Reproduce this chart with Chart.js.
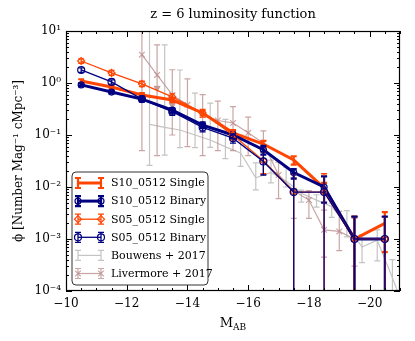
<!DOCTYPE html>
<html>
<head>
<meta charset="utf-8">
<script src="https://cdn.jsdelivr.net/npm/chart.js@4.4.0/dist/chart.umd.min.js"></script>
<style>
  html, body { margin: 0; padding: 0; background: #fff; }
  .chart-wrap { width: 415px; height: 341px; }
</style>
</head>
<body>
<div class="chart-wrap"><canvas id="lf"></canvas></div>
<script>
// simulation bins (M_AB)
const mags = [-10.5, -11.5, -12.5, -13.5, -14.5, -15.5, -16.5, -17.5, -18.5, -19.5, -20.5];

const s10Single   = [1.09, 0.84, 0.59, 0.47, 0.265, 0.11, 0.067, 0.033, 0.0096, 0.001, 0.002];
const s10SingleLo = [1.0, 0.78, 0.55, 0.43, 0.24, 0.098, 0.058, 0.027, 0.0075, 1e-6, 0.00056];
const s10SingleHi = [1.18, 0.9, 0.64, 0.51, 0.29, 0.124, 0.077, 0.039, 0.012, 0.0027, 0.0033];

const s10Binary   = [0.92, 0.67, 0.49, 0.30, 0.155, 0.10, 0.052, 0.019, 0.010, 0.001, 0.001];
const s10BinaryLo = [0.87, 0.63, 0.45, 0.27, 0.135, 0.085, 0.042, 0.0145, 0.005, 1e-6, 1e-6];
const s10BinaryHi = [0.97, 0.71, 0.53, 0.33, 0.175, 0.115, 0.062, 0.022, 0.016, 0.0027, 0.0027];

const s05Single   = [2.65, 1.56, 0.96, 0.54, 0.265, 0.10, 0.032, 0.008, 0.008, 0.001, 0.001];
const s05SingleLo = [2.4, 1.4, 0.85, 0.47, 0.22, 0.08, 0.018, 1e-6, 1e-6, 1e-6, 1e-6];
const s05SingleHi = [2.9, 1.75, 1.08, 0.62, 0.31, 0.12, 0.048, 0.018, 0.018, 0.0027, 0.0027];

const s05Binary   = [1.78, 1.05, 0.49, 0.28, 0.14, 0.087, 0.031, 0.008, 0.008, 0.001, 0.001];
const s05BinaryLo = [1.6, 0.95, 0.43, 0.24, 0.115, 0.07, 0.017, 1e-6, 1e-6, 1e-6, 1e-6];
const s05BinaryHi = [1.95, 1.15, 0.56, 0.32, 0.165, 0.105, 0.048, 0.018, 0.016, 0.0027, 0.0027];

// Bouwens+2017
const bouwensMags = [-12.75, -13.25, -13.75, -14.25, -14.75, -15.25, -15.75, -16.25, -16.75,
                     -17.25, -17.75, -18.25, -18.75, -19.25, -19.75, -20.25, -20.75, -21.25];
const bouwens   = [0.16, 0.14, 0.125, 0.10, 0.08, 0.059, 0.045, 0.015, 0.019,
                   0.013, 0.0076, 0.0056, 0.0042, 0.0018, 0.0007, 0.00095, 0.00018, 0.00003];
const bouwensLo = [0.026, 0.041, 0.057, 0.057, 0.058, 0.035, 0.025, 0.0088, 0.012,
                   0.010, 0.0051, 0.0041, 0.0026, 0.0011, 0.00035, 0.00038, 0.00001, 0.00001];
const bouwensHi = [30, 5.4, 1.78, 0.64, 0.41, 0.2, 0.1, 0.029, 0.033,
                   0.024, 0.0087, 0.0071, 0.0049, 0.0035, 0.0012, 0.0015, 0.0004, 0.0001];

// Livermore+2017
const livermoreMags = [-12.5, -13.0, -13.5, -14.0, -14.5, -15.0, -15.5, -16.0, -16.5,
                       -17.0, -17.5, -18.0, -18.5, -19.0, -19.5];
const livermore   = [3.5, 1.43, 0.59, 0.38, 0.24, 0.19, 0.17, 0.11, 0.07,
                     0.017, 0.0085, 0.0056, 0.0015, 0.0014, 0.001];
const livermoreLo = [0.05, 0.04, 0.1, 0.06, 0.04, 0.05, 0.05, 0.04, 0.03,
                     0.006, 0.0025, 0.0025, 0.00045, 0.0006, 0.0003];
const livermoreHi = [30, 5.4, 1.8, 1.2, 0.6, 0.45, 0.35, 0.22, 0.12,
                     0.03, 0.015, 0.0085, 0.0036, 0.0034, 0.0025];
const livermoreLimitMags = [-13.0, -13.5];
const livermoreLimits = [0.8, 0.375];

const xTicks = [-20, -18, -16, -14, -12, -10];
const yTicks = [1e-4, 1e-3, 1e-2, 1e-1, 1, 10];

const SERIF = '"DejaVu Serif", serif';
const SUP = { '-': '\u207b', '0': '\u2070', '1': '\u00b9', '2': '\u00b2', '3': '\u00b3', '4': '\u2074' };
const sup = s => String(s).split('').map(c => SUP[c]).join('');
const pts = (xs, ys) => xs.map((x, i) => ({ x, y: ys[i] }));

// vertical error bars, drawn right after their own dataset
const errorBars = {
  id: 'errorBars',
  afterDatasetDraw(chart, args) {
    const ds = chart.data.datasets[args.index];
    if (!ds.errLo) return;
    const { ctx, chartArea: a, scales: { x, y } } = chart;
    ctx.save();
    ctx.beginPath();
    ctx.rect(a.left, a.top, a.right - a.left, a.bottom - a.top);
    ctx.clip();
    ctx.strokeStyle = ds.borderColor;
    ctx.lineWidth = ds.errWidth;
    const cap = 3;
    ds.data.forEach((p, i) => {
      const px = x.getPixelForValue(p.x);
      const top = y.getPixelForValue(ds.errHi[i]);
      const bot = y.getPixelForValue(ds.errLo[i]);
      ctx.beginPath();
      ctx.moveTo(px, top); ctx.lineTo(px, bot);
      ctx.moveTo(px - cap, top); ctx.lineTo(px + cap, top);
      ctx.moveTo(px - cap, bot); ctx.lineTo(px + cap, bot);
      ctx.stroke();
    });
    ctx.restore();
  }
};

// frame with inward ticks on all sides, plus title and x label
const frameTicks = {
  id: 'frameTicks',
  afterDatasetsDraw(chart) {
    const { ctx, chartArea: a, scales: { x, y } } = chart;
    ctx.save();
    ctx.strokeStyle = '#000';
    ctx.lineWidth = 1;
    ctx.beginPath();
    for (let v = -21; v <= -10; v += 0.5) {
      const px = Math.round(x.getPixelForValue(v)) + 0.5;
      const len = v % 2 === 0 ? 6 : 3;
      ctx.moveTo(px, a.bottom); ctx.lineTo(px, a.bottom - len);
      ctx.moveTo(px, a.top); ctx.lineTo(px, a.top + len);
    }
    for (let e = -4; e <= 1; e++) {
      for (let m = 1; m <= (e === 1 ? 1 : 9); m++) {
        const py = Math.round(y.getPixelForValue(m * Math.pow(10, e))) + 0.5;
        const len = m === 1 ? 6 : 3;
        ctx.moveTo(a.left, py); ctx.lineTo(a.left + len, py);
        ctx.moveTo(a.right, py); ctx.lineTo(a.right - len, py);
      }
    }
    ctx.stroke();
    ctx.lineWidth = 1.2;
    ctx.strokeRect(a.left + 0.5, a.top + 0.5, a.right - a.left - 1, a.bottom - a.top - 1);

    ctx.fillStyle = '#000';
    ctx.textAlign = 'center';
    ctx.textBaseline = 'alphabetic';
    ctx.font = '13px ' + SERIF;
    ctx.fillText('z = 6 luminosity function', (a.left + a.right) / 2, 18);

    const cx = (a.left + a.right) / 2;
    ctx.font = '13px ' + SERIF;
    const wM = ctx.measureText('M').width;
    ctx.font = '9px ' + SERIF;
    const wAB = ctx.measureText('AB').width;
    const x0 = cx - (wM + wAB) / 2;
    ctx.textAlign = 'left';
    ctx.font = '13px ' + SERIF;
    ctx.fillText('M', x0, 327);
    ctx.font = '9px ' + SERIF;
    ctx.fillText('AB', x0 + wM, 330);
    ctx.restore();
  }
};

// boxed legend in the lower left corner
const legendOrder = [0, 1, 2, 3, 4, 5];
const boxLegend = {
  id: 'boxLegend',
  afterDraw(chart) {
    const { ctx } = chart;
    const bx = 72, by = 172, bw = 136, bh = 113, r = 4;
    ctx.save();
    ctx.beginPath();
    ctx.moveTo(bx + r, by);
    ctx.arcTo(bx + bw, by, bx + bw, by + bh, r);
    ctx.arcTo(bx + bw, by + bh, bx, by + bh, r);
    ctx.arcTo(bx, by + bh, bx, by, r);
    ctx.arcTo(bx, by, bx + bw, by, r);
    ctx.closePath();
    ctx.fillStyle = '#fff';
    ctx.fill();
    ctx.strokeStyle = '#333';
    ctx.lineWidth = 1;
    ctx.stroke();

    legendOrder.forEach((di, row) => {
      const ds = chart.data.datasets[di];
      const yy = 183 + row * 18.1;
      const x1 = 78, x2 = 101;
      ctx.strokeStyle = ds.borderColor;
      ctx.lineWidth = ds.borderWidth;
      ctx.beginPath(); ctx.moveTo(x1, yy); ctx.lineTo(x2, yy); ctx.stroke();
      [x1, x2].forEach(px => {
        ctx.strokeStyle = ds.borderColor;
        ctx.lineWidth = ds.errWidth;
        ctx.beginPath();
        ctx.moveTo(px, yy - 5); ctx.lineTo(px, yy + 5);
        ctx.moveTo(px - 3, yy - 5); ctx.lineTo(px + 3, yy - 5);
        ctx.moveTo(px - 3, yy + 5); ctx.lineTo(px + 3, yy + 5);
        ctx.stroke();
        if (ds.pointRadius > 0) {
          ctx.fillStyle = ds.pointBackgroundColor;
          ctx.strokeStyle = ds.pointBorderColor;
          ctx.lineWidth = ds.pointBorderWidth;
          Chart.helpers.drawPoint(ctx, {
            pointStyle: ds.pointStyle, radius: ds.pointRadius, rotation: 0,
            borderWidth: ds.pointBorderWidth
          }, px, yy);
        }
      });
      ctx.fillStyle = '#000';
      ctx.font = '11px ' + SERIF;
      ctx.textAlign = 'left';
      ctx.textBaseline = 'middle';
      ctx.fillText(ds.label, 111, yy + 0.5);
    });
    ctx.restore();
  }
};

const ORANGE = '#ff4500';
const NAVY = '#000080';
const GREY = '#c4c4c4';
const PINK = 'rgba(188,143,143,0.8)';
const CLEAR = 'rgba(0,0,0,0)';

new Chart(document.getElementById('lf'), {
  type: 'line',
  data: {
    datasets: [
      {
        label: 'S10_0512 Single', data: pts(mags, s10Single), errLo: s10SingleLo, errHi: s10SingleHi,
        borderColor: ORANGE, borderWidth: 3, errWidth: 2.2, pointRadius: 0, order: 3
      },
      {
        label: 'S10_0512 Binary', data: pts(mags, s10Binary), errLo: s10BinaryLo, errHi: s10BinaryHi,
        borderColor: NAVY, borderWidth: 3, errWidth: 2.2, order: 2,
        pointStyle: 'circle', pointRadius: 3, pointBorderWidth: 1.2,
        pointBorderColor: NAVY, pointBackgroundColor: CLEAR
      },
      {
        label: 'S05_0512 Single', data: pts(mags, s05Single), errLo: s05SingleLo, errHi: s05SingleHi,
        borderColor: ORANGE, borderWidth: 1.3, errWidth: 1.3, order: 1,
        pointStyle: 'rectRot', pointRadius: 3.5, pointBorderWidth: 1.2,
        pointBorderColor: ORANGE, pointBackgroundColor: CLEAR
      },
      {
        label: 'S05_0512 Binary', data: pts(mags, s05Binary), errLo: s05BinaryLo, errHi: s05BinaryHi,
        borderColor: NAVY, borderWidth: 1.3, errWidth: 1.3, order: 0,
        pointStyle: 'circle', pointRadius: 3.5, pointBorderWidth: 1.2,
        pointBorderColor: NAVY, pointBackgroundColor: CLEAR
      },
      {
        label: 'Bouwens + 2017', data: pts(bouwensMags, bouwens), errLo: bouwensLo, errHi: bouwensHi,
        borderColor: GREY, borderWidth: 1.2, errWidth: 1.2, pointRadius: 0, order: 5
      },
      {
        label: 'Livermore + 2017', data: pts(livermoreMags, livermore), errLo: livermoreLo, errHi: livermoreHi,
        borderColor: PINK, borderWidth: 1.2, errWidth: 1.2, order: 4,
        pointStyle: 'crossRot', pointRadius: 4, pointBorderWidth: 1.2,
        pointBorderColor: PINK, pointBackgroundColor: PINK
      },
      {
        label: 'Livermore limits', data: pts(livermoreLimitMags, livermoreLimits),
        showLine: false, borderColor: PINK, order: 4,
        pointStyle: 'triangle', rotation: 180, pointRadius: 3.5, pointBorderWidth: 1,
        pointBorderColor: PINK, pointBackgroundColor: PINK
      }
    ]
  },
  options: {
    responsive: true,
    maintainAspectRatio: false,
    animation: false,
    events: [],
    clip: 0,
    layout: { padding: { top: 31, right: 15, left: 8, bottom: 0 } },
    plugins: { legend: { display: false }, tooltip: { enabled: false } },
    elements: { line: { tension: 0 } },
    scales: {
      x: {
        type: 'linear', min: -21, max: -10, reverse: true,
        grid: { display: false, drawTicks: false },
        border: { display: false },
        afterBuildTicks: s => { s.ticks = xTicks.map(v => ({ value: v })); },
        afterFit: s => { s.height = 50; },
        ticks: {
          color: '#000', padding: 6, maxRotation: 0,
          font: { family: SERIF, size: 12 },
          callback: v => (v < 0 ? '\u2212' : '') + Math.abs(v)
        }
      },
      y: {
        type: 'logarithmic', min: 1e-4, max: 10,
        grid: { display: false, drawTicks: false },
        border: { display: false },
        afterBuildTicks: s => { s.ticks = yTicks.map(v => ({ value: v })); },
        afterFit: s => { s.width = 58; },
        ticks: {
          color: '#000', padding: 5,
          font: { family: SERIF, size: 12 },
          callback: v => '10' + sup(Math.round(Math.log10(v)))
        },
        title: {
          display: true, color: '#000',
          text: '\u03d5 [Number Mag\u207b\u00b9 cMpc\u207b\u00b3]',
          font: { family: SERIF, size: 12 }
        }
      }
    }
  },
  plugins: [errorBars, frameTicks, boxLegend]
});
</script>
</body>
</html>
